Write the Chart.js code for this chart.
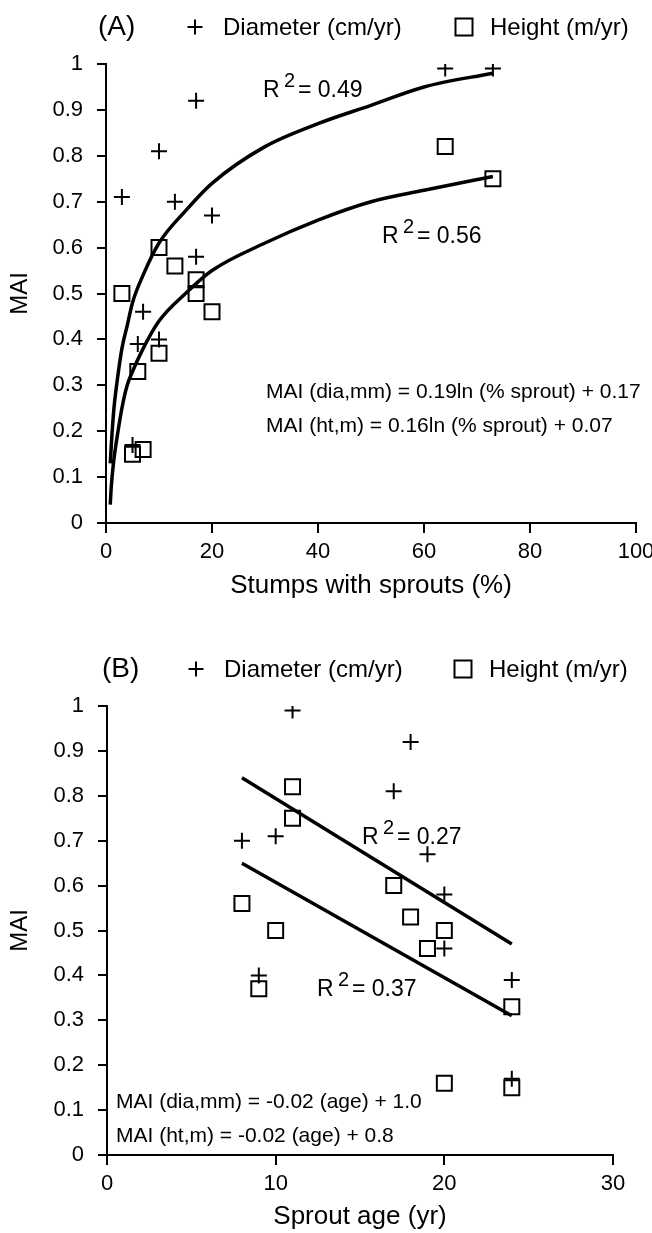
<!DOCTYPE html>
<html>
<head>
<meta charset="utf-8">
<script src="https://cdn.jsdelivr.net/npm/chart.js@4.4.1/dist/chart.umd.min.js"></script>
<style>
  html, body { margin: 0; padding: 0; background: #fff; }
  canvas { display: block; }
</style>
</head>
<body>
<canvas id="chartA" width="652" height="620"></canvas>
<canvas id="chartB" width="652" height="613"></canvas>
<script>
// ---- panel A: MAI vs stumps with sprouts (%) ----
const pctDia = [3, 10, 17, 13, 20, 17, 7, 6, 10, 5, 64, 73];
const diaA   = [0.71, 0.81, 0.92, 0.70, 0.67, 0.58, 0.46, 0.39, 0.40, 0.17, 0.99, 0.99];
const pctHt  = [10, 13, 17, 3, 17, 20, 10, 6, 5, 7, 64, 73];
const htA    = [0.60, 0.56, 0.53, 0.50, 0.50, 0.46, 0.37, 0.33, 0.15, 0.16, 0.82, 0.75];

// log trend curves
const fitPctA = [0.8, 1, 1.5, 2, 3, 4, 5, 7, 10, 15, 20, 30, 40, 50, 60, 73];
const fitDiaA = [0.13, 0.17, 0.25, 0.30, 0.38, 0.43, 0.48, 0.54, 0.61, 0.68, 0.74, 0.82, 0.87, 0.91, 0.95, 0.98];
const fitHtA  = [0.04, 0.08, 0.14, 0.18, 0.25, 0.30, 0.33, 0.38, 0.44, 0.50, 0.55, 0.61, 0.66, 0.70, 0.725, 0.755];

// ---- panel B: MAI vs sprout age (yr) ----
const ageDia = [11, 18, 17, 8, 10, 19, 20, 20, 9, 24, 24];
const diaB   = [0.99, 0.92, 0.81, 0.70, 0.71, 0.67, 0.58, 0.46, 0.40, 0.39, 0.17];
const ageHt  = [11, 11, 17, 8, 18, 10, 20, 19, 9, 24, 20, 24];
const htB    = [0.82, 0.75, 0.60, 0.56, 0.53, 0.50, 0.50, 0.46, 0.37, 0.33, 0.16, 0.15];

const fitAgeB = [8, 24];
const fitDiaB = [0.84, 0.47];
const fitHtB  = [0.65, 0.31];

const legendNames = ["Diameter (cm/yr)", "Height (m/yr)"];

const FONT = "'Liberation Sans', Arial, sans-serif";
Chart.defaults.font.family = FONT;
Chart.defaults.color = "#000";

function pts(xs, ys) {
    return xs.map((x, i) => ({ x: x, y: ys[i] }));
}

// R², legend and equations drawn over the chart
const panelText = {
    id: "panelText",
    afterDraw(chart, args, opts) {
        const ctx = chart.ctx;
        ctx.save();
        ctx.fillStyle = "#000";
        ctx.strokeStyle = "#000";
        ctx.textAlign = "left";
        ctx.textBaseline = "alphabetic";

        ctx.font = "28px " + FONT;
        ctx.fillText(opts.tag, opts.tagX, opts.legendY);

        // legend
        ctx.lineWidth = 2;
        const cy = opts.legendY - 8;
        ctx.beginPath();
        ctx.moveTo(opts.crossX - 7.5, cy);
        ctx.lineTo(opts.crossX + 7.5, cy);
        ctx.moveTo(opts.crossX, cy - 7.5);
        ctx.lineTo(opts.crossX, cy + 7.5);
        ctx.stroke();
        ctx.strokeRect(opts.squareX - 8.5, cy - 8.5, 17, 17);
        ctx.font = "24px " + FONT;
        ctx.fillText(legendNames[0], opts.crossX + 28, opts.legendY);
        ctx.fillText(legendNames[1], opts.squareX + 26, opts.legendY);

        opts.r2.forEach(r => {
            ctx.font = "23px " + FONT;
            ctx.fillText("R", r.x, r.y);
            ctx.fillText("= " + r.v, r.x + 35, r.y);
            ctx.font = "20px " + FONT;
            ctx.fillText("2", r.x + 21, r.y - 10);
        });

        ctx.font = "21px " + FONT;
        opts.eqs.forEach(e => ctx.fillText(e.text, opts.eqX, e.y));
        ctx.restore();
    }
};

function makeChart(id, cfg) {
    const markers = [
        {
            label: legendNames[0],
            data: pts(cfg.dx, cfg.dy),
            pointStyle: "cross",
            pointRadius: 8,
            pointBorderWidth: 2,
            borderColor: "#000",
            backgroundColor: "#000"
        },
        {
            label: legendNames[1],
            data: pts(cfg.hx, cfg.hy),
            pointStyle: "rect",
            pointRadius: 10.6,
            pointBorderWidth: 2,
            borderColor: "#000",
            backgroundColor: "rgba(0,0,0,0)"
        }
    ];
    const fits = [cfg.fitDia, cfg.fitHt].map(f => ({
        type: "line",
        data: pts(cfg.fitX, f),
        borderColor: "#000",
        borderWidth: 3.5,
        pointRadius: 0,
        fill: false,
        cubicInterpolationMode: cfg.smooth ? "monotone" : "default",
        tension: 0
    }));

    return new Chart(document.getElementById(id), {
        type: "scatter",
        data: { datasets: markers.concat(fits) },
        plugins: [panelText],
        options: {
            responsive: false,
            animation: false,
            events: [],
            layout: { padding: { top: cfg.padTop, right: cfg.padRight, left: 0, bottom: 0 } },
            plugins: {
                legend: { display: false },
                tooltip: { enabled: false },
                panelText: cfg.text
            },
            scales: {
                x: {
                    type: "linear",
                    min: 0,
                    max: cfg.xMax,
                    ticks: { stepSize: cfg.xStep, padding: 6, font: { size: 22 } },
                    grid: { drawOnChartArea: false, color: "#000", lineWidth: 2, tickLength: 10 },
                    border: { color: "#000", width: 2 },
                    title: { display: true, text: cfg.xTitle, font: { size: 26 }, padding: { top: 0, bottom: cfg.titlePad } },
                    afterFit(scale) {
                        scale.height = cfg.xHeight;
                        scale.paddingLeft = 0;
                        scale.paddingRight = 0;
                    }
                },
                y: {
                    min: 0,
                    max: 1,
                    ticks: {
                        stepSize: 0.1,
                        padding: 14,
                        font: { size: 22 },
                        callback: v => String(+v.toFixed(1))
                    },
                    grid: { drawOnChartArea: false, color: "#000", lineWidth: 2, tickLength: 9 },
                    border: { color: "#000", width: 2 },
                    title: { display: true, text: "MAI", font: { size: 24 }, padding: { top: 6, bottom: 0 } },
                    afterFit(scale) {
                        scale.width = cfg.yWidth;
                    }
                }
            }
        }
    });
}

makeChart("chartA", {
    dx: pctDia, dy: diaA, hx: pctHt, hy: htA,
    fitX: fitPctA, fitDia: fitDiaA, fitHt: fitHtA, smooth: true,
    xMax: 100, xStep: 20, xTitle: "Stumps with sprouts (%)",
    padTop: 64, padRight: 16, xHeight: 97, yWidth: 106, titlePad: 19,
    text: {
        tag: "(A)", tagX: 98, legendY: 35, crossX: 195, squareX: 464,
        r2: [{ x: 263, y: 97, v: "0.49" }, { x: 382, y: 243, v: "0.56" }],
        eqX: 266,
        eqs: [
            { text: "MAI (dia,mm) = 0.19ln (% sprout) + 0.17", y: 398 },
            { text: "MAI (ht,m) = 0.16ln (% sprout) + 0.07", y: 432 }
        ]
    }
});

makeChart("chartB", {
    dx: ageDia, dy: diaB, hx: ageHt, hy: htB,
    fitX: fitAgeB, fitDia: fitDiaB, fitHt: fitHtB, smooth: false,
    xMax: 30, xStep: 10, xTitle: "Sprout age (yr)",
    padTop: 86, padRight: 39, xHeight: 78, yWidth: 107, titlePad: 1,
    text: {
        tag: "(B)", tagX: 102, legendY: 57, crossX: 196, squareX: 463,
        r2: [{ x: 362, y: 224, v: "0.27" }, { x: 317, y: 376, v: "0.37" }],
        eqX: 116,
        eqs: [
            { text: "MAI (dia,mm) = -0.02 (age) + 1.0", y: 488 },
            { text: "MAI (ht,m) = -0.02 (age) + 0.8", y: 522 }
        ]
    }
});
</script>
</body>
</html>
